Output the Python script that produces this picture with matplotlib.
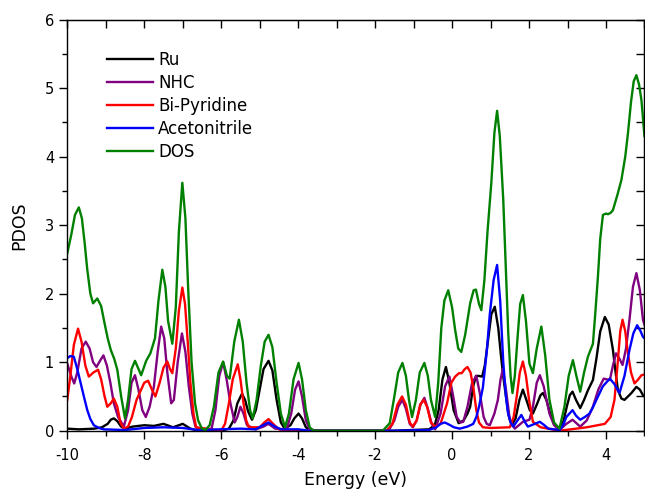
import matplotlib
matplotlib.use('Agg')
import matplotlib.pyplot as plt
from matplotlib.ticker import MultipleLocator

plt.rcParams['font.family'] = ['DejaVu Sans']
plt.rcParams['axes.unicode_minus'] = False

# Ru
ru_x = [-10, -9.7, -9.3, -9.1, -8.95, -8.87, -8.79, -8.7, -8.6, -8.5, -8.3, -8.0, -7.75, -7.5, -7.25, -7.0,
        -6.8, -6.6, -6.0, -5.8, -5.68, -5.58, -5.46, -5.38, -5.3, -5.2, -5.1, -5.0, -4.9, -4.77, -4.67,
        -4.56, -4.45, -4.35, -4.2, -4.1, -3.99, -3.9, -3.8, -3.65, -1.5, -0.6, -0.45, -0.35, -0.25,
        -0.16, -0.07, 0.04, 0.17, 0.3, 0.4, 0.47, 0.55, 0.62, 0.69, 0.78, 0.85, 0.93, 1.02, 1.11, 1.2,
        1.27, 1.33, 1.4, 1.47, 1.55, 1.65, 1.75, 1.84, 1.93, 2.02, 2.1, 2.2, 2.3, 2.36, 2.45, 2.55, 2.65,
        2.8, 2.9, 2.98, 3.06, 3.13, 3.22, 3.33, 3.43, 3.53, 3.66, 3.75, 3.85, 3.97, 4.07, 4.18, 4.25,
        4.31, 4.4, 4.48, 4.57, 4.66, 4.79, 4.88, 4.96, 5.0]
ru_y = [0.03, 0.02, 0.03, 0.05, 0.1, 0.16, 0.18, 0.14, 0.06, 0.03, 0.06, 0.08, 0.07, 0.1, 0.05, 0.1,
        0.03, 0.0, 0.0, 0.03, 0.15, 0.4, 0.54, 0.45, 0.28, 0.16, 0.3, 0.6, 0.9, 1.02, 0.88,
        0.45, 0.12, 0.03, 0.08, 0.18, 0.25, 0.18, 0.05, 0.0, 0.0, 0.02, 0.08, 0.3, 0.75,
        0.93, 0.7, 0.30, 0.11, 0.15, 0.25, 0.35, 0.65, 0.8, 0.8, 0.79, 0.95, 1.3, 1.7, 1.81, 1.5,
        1.1, 0.79, 0.5, 0.22, 0.08, 0.18, 0.45, 0.6, 0.45, 0.3, 0.25, 0.38, 0.52, 0.55, 0.45, 0.25, 0.1,
        0.03, 0.15, 0.35, 0.52, 0.57, 0.45, 0.33, 0.45, 0.59, 0.74, 1.05, 1.45, 1.66, 1.55, 1.18, 0.85,
        0.59, 0.47, 0.45, 0.5, 0.55, 0.64, 0.6, 0.52, 0.5]

# NHC
nhc_x = [-10, -9.9, -9.82, -9.74, -9.63, -9.52, -9.42, -9.33, -9.24, -9.15, -9.06, -8.97, -8.88, -8.79,
         -8.68, -8.53, -8.42, -8.33, -8.24, -8.15, -8.05, -7.96, -7.86, -7.75, -7.65, -7.56, -7.48,
         -7.4, -7.3, -7.23, -7.13, -7.02, -6.93, -6.84, -6.75, -6.67, -6.5, -6.25, -6.15, -6.05, -5.95,
         -5.86, -5.76, -5.65, -5.58, -5.5, -5.42, -5.33, -5.1, -4.9, -4.77, -4.6, -4.3, -4.18, -4.08,
         -3.99, -3.9, -3.8, -3.7, -3.5, -1.65, -1.5, -1.4, -1.29, -1.2, -1.1, -1.02, -0.92, -0.82,
         -0.72, -0.63, -0.53, -0.44, -0.3, -0.18, -0.07, 0.03, 0.12, 0.22, 0.29, 0.4, 0.52, 0.63, 0.72,
         0.82, 0.9, 0.98, 1.1, 1.19, 1.26, 1.32, 1.4, 1.5, 1.63, 1.84, 2.01, 2.1, 2.2, 2.28, 2.38, 2.53,
         2.65, 2.79, 2.97, 3.13, 3.33, 3.5, 3.66, 3.8, 3.94, 4.1, 4.18, 4.26, 4.35, 4.43, 4.52, 4.61,
         4.7, 4.79, 4.88, 4.96, 5.0]
nhc_y = [0.98, 0.8, 0.69, 0.85, 1.2, 1.30, 1.2, 1.0, 0.93, 1.02, 1.10, 0.95, 0.7, 0.40,
         0.2, 0.06, 0.3, 0.7, 0.81, 0.6, 0.3, 0.20, 0.35, 0.64, 1.15, 1.52, 1.35,
         0.85, 0.4, 0.45, 1.0, 1.42, 1.15, 0.64, 0.25, 0.06, 0.0, 0.03, 0.3, 0.8, 1.0,
         0.75, 0.4, 0.12, 0.2, 0.35, 0.25, 0.08, 0.02, 0.06, 0.1, 0.03, 0.02, 0.25, 0.6,
         0.72, 0.5, 0.15, 0.02, 0.0, 0.0, 0.15, 0.35, 0.45, 0.32, 0.1, 0.05, 0.15, 0.38,
         0.48, 0.32, 0.1, 0.02, 0.25, 0.65, 0.79, 0.5, 0.2, 0.12, 0.13, 0.35, 0.7, 0.80, 0.55,
         0.2, 0.1, 0.08, 0.25, 0.45, 0.75, 0.90, 0.6, 0.16, 0.03, 0.13, 0.16, 0.35, 0.7, 0.81, 0.65, 0.25,
         0.08, 0.01, 0.1, 0.16, 0.06, 0.15, 0.35, 0.6, 0.76, 0.74, 0.95, 1.13, 1.05, 0.96, 1.2, 1.62,
         2.1, 2.30, 2.05, 1.62, 1.55]

# Bi-Pyridine
bipy_x = [-10, -9.92, -9.83, -9.72, -9.63, -9.53, -9.44, -9.32, -9.2, -9.12, -9.03, -8.96, -8.87, -8.79,
          -8.7, -8.62, -8.53, -8.42, -8.32, -8.2, -8.0, -7.9, -7.8, -7.71, -7.6, -7.5, -7.4, -7.33,
          -7.27, -7.18, -7.1, -7.01, -6.94, -6.87, -6.8, -6.72, -6.65, -6.0, -5.9, -5.8, -5.7, -5.57,
          -5.5, -5.42, -5.35, -5.28, -5.0, -4.88, -4.77, -4.65, -4.5, -4.2, -1.7, -1.55, -1.42, -1.3,
          -1.2, -1.1, -1.02, -0.92, -0.83, -0.74, -0.65, -0.55, -0.44, -0.3, -0.13, -0.02, 0.08, 0.18,
          0.25, 0.33, 0.4, 0.48, 0.56, 0.63, 0.7, 0.8, 1.0, 1.5, 1.6, 1.68, 1.76, 1.84, 1.92, 2.0, 2.1,
          2.3, 2.8, 3.5, 3.97, 4.12, 4.22, 4.31, 4.37, 4.43, 4.5, 4.57, 4.65, 4.74, 4.84, 4.92, 5.0]
bipy_y = [0.45, 0.8, 1.25, 1.49, 1.3, 0.95, 0.79, 0.85, 0.89, 0.75, 0.5, 0.35, 0.4, 0.47,
          0.35, 0.12, 0.03, 0.06, 0.2, 0.45, 0.7, 0.73, 0.6, 0.50, 0.7, 0.92, 1.01, 0.9,
          0.84, 1.2, 1.75, 2.09, 1.85, 1.3, 0.7, 0.25, 0.05, 0.0, 0.1, 0.4, 0.75, 0.97,
          0.75, 0.4, 0.15, 0.05, 0.05, 0.12, 0.17, 0.1, 0.02, 0.0, 0.0, 0.1, 0.38, 0.50,
          0.38, 0.12, 0.06, 0.15, 0.38, 0.45, 0.35, 0.12, 0.06, 0.1, 0.4, 0.7, 0.79, 0.84,
          0.84, 0.9, 0.93, 0.85, 0.6, 0.3, 0.12, 0.05, 0.04, 0.05, 0.2, 0.5, 0.85, 1.01, 0.8, 0.45, 0.13,
          0.05, 0.0, 0.05, 0.1, 0.2, 0.45, 1.03, 1.45, 1.62, 1.45, 1.13, 0.85, 0.69, 0.75, 0.81, 0.82]

# Acetonitrile
acn_x = [-10, -9.92, -9.83, -9.74, -9.65, -9.56, -9.48, -9.4, -9.31, -9.18, -9.05, -8.5, -8.0, -7.5,
         -7.0, -6.6, -5.5, -5.1, -4.95, -4.77, -4.6, -4.45, -4.0, -3.7, -1.5, -0.6, -0.41, -0.3, -0.19,
         -0.08, 0.05, 0.2, 0.4, 0.55, 0.63, 0.7, 0.8, 0.9, 0.98, 1.08, 1.17, 1.25, 1.33, 1.4, 1.45,
         1.52, 1.59, 1.7, 1.8, 1.9, 1.97, 2.15, 2.28, 2.4, 2.5, 2.8, 2.9, 2.97, 3.13, 3.22, 3.33, 3.45,
         3.57, 3.65, 3.75, 3.92, 4.1, 4.22, 4.35, 4.48, 4.61, 4.71, 4.81, 4.9, 4.96, 5.0]
acn_y = [1.06, 1.09, 1.08, 0.9, 0.69, 0.48, 0.30, 0.17, 0.08, 0.04, 0.02, 0.01, 0.04, 0.05,
         0.04, 0.01, 0.03, 0.02, 0.07, 0.12, 0.06, 0.02, 0.02, 0.0, 0.0, 0.01, 0.05, 0.1, 0.12,
         0.09, 0.05, 0.03, 0.06, 0.10, 0.2, 0.35, 0.63, 1.15, 1.70, 2.2, 2.42, 1.9, 1.0, 0.5, 0.27,
         0.12, 0.06, 0.15, 0.23, 0.12, 0.06, 0.1, 0.13, 0.08, 0.03, 0.01, 0.1, 0.20, 0.30, 0.22, 0.16, 0.2,
         0.25, 0.33, 0.45, 0.65, 0.76, 0.68, 0.55, 0.8, 1.18, 1.42, 1.54, 1.45, 1.37, 1.35]

# DOS
dos_x = [-10, -9.9, -9.8, -9.7, -9.62, -9.55, -9.48, -9.4, -9.33, -9.22, -9.12, -9.05, -8.95, -8.87,
         -8.78, -8.7, -8.6, -8.5, -8.42, -8.33, -8.24, -8.15, -8.08, -7.95, -7.84, -7.72, -7.63, -7.53,
         -7.45, -7.38, -7.27, -7.18, -7.1, -7.01, -6.93, -6.86, -6.77, -6.68, -6.6, -6.5, -6.41, -6.3,
         -6.19, -6.07, -5.95, -5.85, -5.78, -5.66, -5.54, -5.44, -5.34, -5.25, -5.18, -5.08, -4.97,
         -4.87, -4.77, -4.67, -4.56, -4.45, -4.34, -4.24, -4.12, -3.99, -3.9, -3.8, -3.7, -3.6, -1.8,
         -1.62, -1.5, -1.4, -1.29, -1.2, -1.12, -1.04, -0.94, -0.84, -0.72, -0.63, -0.55, -0.44, -0.36,
         -0.28, -0.2, -0.1, 0.0, 0.08, 0.16, 0.24, 0.34, 0.47, 0.56, 0.62, 0.7, 0.76, 0.84, 0.92, 1.02,
         1.1, 1.17, 1.24, 1.33, 1.4, 1.46, 1.52, 1.57, 1.63, 1.7, 1.77, 1.84, 1.92, 2.01, 2.1, 2.2, 2.32,
         2.42, 2.53, 2.65, 2.79, 2.92, 3.03, 3.14, 3.23, 3.33, 3.43, 3.53, 3.66, 3.72, 3.79, 3.85, 3.92,
         4.0, 4.05, 4.12, 4.18, 4.3, 4.4, 4.5, 4.57, 4.65, 4.72, 4.79, 4.86, 4.92, 4.97, 5.0]
dos_y = [2.59, 2.85, 3.15, 3.26, 3.1, 2.75, 2.35, 2.0, 1.86, 1.93, 1.82, 1.62, 1.35, 1.18,
         1.05, 0.89, 0.5, 0.18, 0.45, 0.9, 1.02, 0.9, 0.81, 1.02, 1.13, 1.35, 1.9, 2.35,
         2.1, 1.6, 1.27, 1.8, 2.9, 3.62, 3.1, 2.1, 1.0, 0.4, 0.15, 0.03, 0.01, 0.08,
         0.35, 0.85, 1.01, 0.8, 0.76, 1.3, 1.62, 1.3, 0.69, 0.3, 0.18, 0.45, 0.95,
         1.3, 1.40, 1.22, 0.7, 0.25, 0.05, 0.25, 0.75, 0.99, 0.75, 0.3, 0.05, 0.0, 0.0,
         0.11, 0.5, 0.85, 0.99, 0.8, 0.45, 0.20, 0.45, 0.85, 0.99, 0.8, 0.45, 0.20, 0.7,
         1.5, 1.9, 2.05, 1.8, 1.47, 1.2, 1.15, 1.4, 1.86, 2.05, 2.06, 1.85, 1.76, 2.2, 2.9, 3.62,
         4.35, 4.67, 4.3, 3.37, 2.3, 1.42, 0.8, 0.55, 0.8, 1.35, 1.85, 1.98, 1.6, 0.98, 0.84, 1.2, 1.52,
         1.1, 0.45, 0.12, 0.03, 0.35, 0.8, 1.03, 0.8, 0.57, 0.85, 1.08, 1.27, 1.7, 2.25, 2.8, 3.15,
         3.17, 3.16, 3.18, 3.22, 3.45, 3.66, 4.0, 4.34, 4.8, 5.1, 5.19, 5.05, 4.83, 4.5, 4.3]

series = [
    ('Ru', ru_x, ru_y, 'black'),
    ('NHC', nhc_x, nhc_y, '#800080'),
    ('Bi-Pyridine', bipy_x, bipy_y, '#ff0000'),
    ('Acetonitrile', acn_x, acn_y, '#0000ff'),
    ('DOS', dos_x, dos_y, '#008000'),
]

fig = plt.figure(figsize=(6.45, 4.9), dpi=100)
ax = fig.add_axes([0.1043, 0.121, 0.8949, 0.8388])

for name, xs, ys, color in series:
    ax.plot(xs, ys, color=color, lw=1.7, label=name, solid_joinstyle='round')

ax.set_xlim(-10, 5)
ax.set_ylim(0, 6)
ax.xaxis.set_major_locator(MultipleLocator(2))
ax.xaxis.set_minor_locator(MultipleLocator(1))
ax.yaxis.set_major_locator(MultipleLocator(1))
ax.yaxis.set_minor_locator(MultipleLocator(0.5))
ax.tick_params(which='both', direction='out', labelsize=10.5, width=1, pad=4)
ax.tick_params(axis='x', which='both', pad=7)
ax.tick_params(which='major', length=5.5)
ax.tick_params(which='minor', length=3.5)
for s in ax.spines.values():
    s.set_linewidth(1)

# mirrored ticks on top and right point inward
top = ax.secondary_xaxis('top')
top.xaxis.set_major_locator(MultipleLocator(2))
top.xaxis.set_minor_locator(MultipleLocator(1))
top.tick_params(which='both', direction='in', labeltop=False, width=1)
top.tick_params(which='major', length=5.5)
top.tick_params(which='minor', length=5.5)
right = ax.secondary_yaxis('right')
right.yaxis.set_major_locator(MultipleLocator(1))
right.yaxis.set_minor_locator(MultipleLocator(0.5))
right.tick_params(which='both', direction='in', labelright=False, width=1)
right.tick_params(which='major', length=5.5)
right.tick_params(which='minor', length=5.5)

ax.set_xlabel('Energy (eV)', fontsize=12.5, labelpad=6)
ax.set_ylabel('PDOS', fontsize=12.5, labelpad=12)

ax.legend(loc='upper left', bbox_to_anchor=(0.069, 0.925), frameon=False, fontsize=12,
          handlelength=2.75, handletextpad=0.3, labelspacing=0.3, borderaxespad=0, borderpad=0)

fig.savefig('out.png', dpi=100)
